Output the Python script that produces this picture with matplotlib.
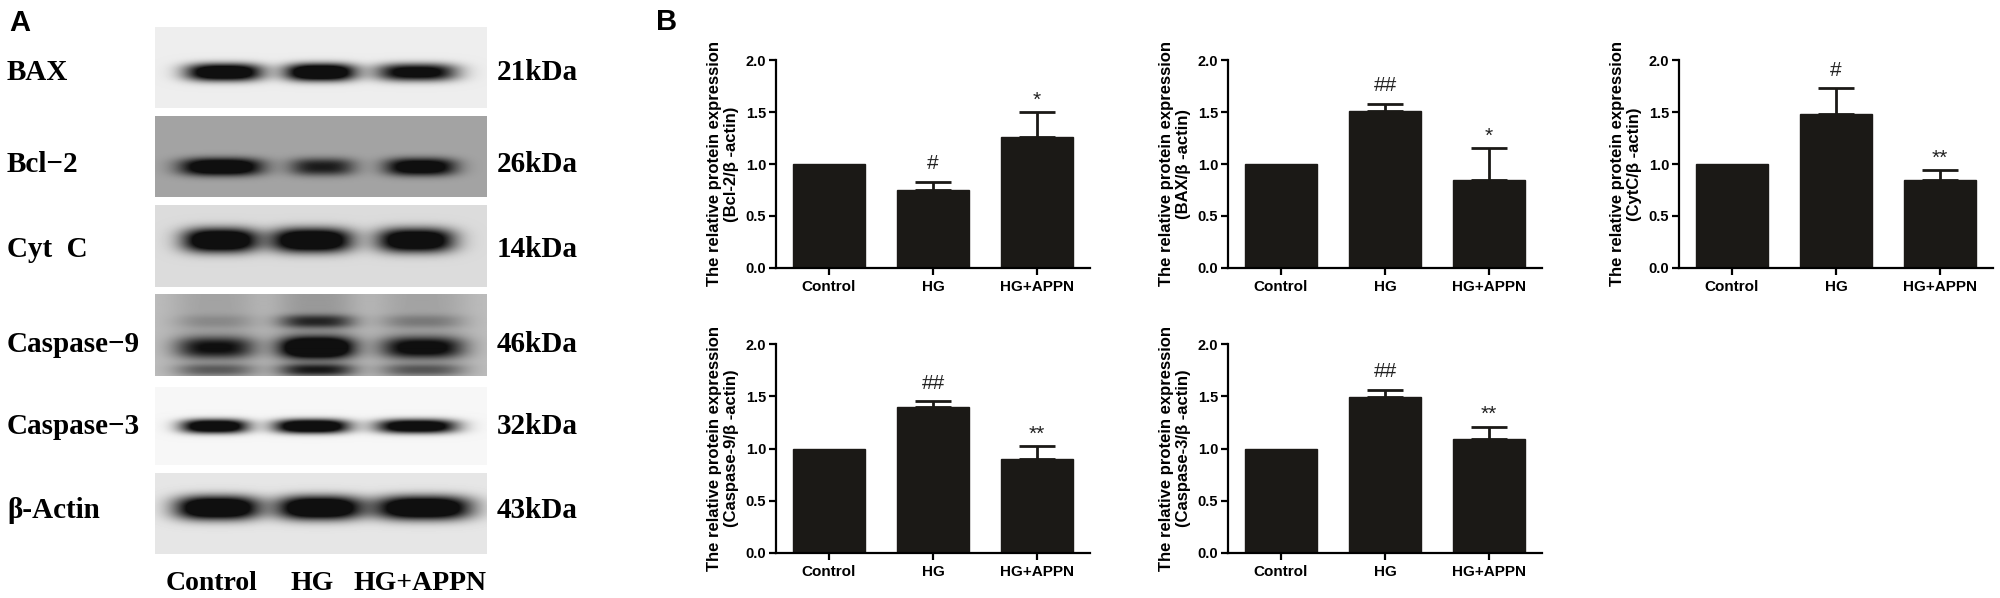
import numpy as np
import matplotlib.pyplot as plt

W, H = 2000, 598

groups = ['Control', 'HG', 'HG+APPN']

# panel B: mean, upper error, significance marks
bcl2_mean = [1.00, 0.75, 1.26]
bcl2_err = [0.0, 0.08, 0.24]
bcl2_mark = ['', '#', '*']
bax_mean = [1.00, 1.51, 0.85]
bax_err = [0.0, 0.07, 0.30]
bax_mark = ['', '##', '*']
cytc_mean = [1.00, 1.48, 0.85]
cytc_err = [0.0, 0.25, 0.09]
cytc_mark = ['', '#', '**']
casp9_mean = [1.00, 1.40, 0.90]
casp9_err = [0.0, 0.05, 0.12]
casp9_mark = ['', '##', '**']
casp3_mean = [1.00, 1.49, 1.09]
casp3_err = [0.0, 0.07, 0.12]
casp3_mark = ['', '##', '**']

# panel A: blot rows and band darkness per lane
blot_names = ['BAX', 'Bcl−2', 'Cyt  C', 'Caspase−9', 'Caspase−3', 'β-Actin']
blot_kda = ['21kDa', '26kDa', '14kDa', '46kDa', '32kDa', '43kDa']
blot_bg = [0.93, 0.64, 0.86, 0.74, 0.965, 0.90]
band_bax = [0.95, 1.0, 0.80]
band_bcl2 = [1.0, 0.62, 0.90]
band_cytc = [1.0, 1.0, 0.95]
band_casp9 = [0.60, 1.0, 0.70]
band_casp9_up = [0.10, 0.45, 0.16]
band_casp9_low = [0.28, 0.50, 0.30]
band_casp9_lane = [0.10, 0.14, 0.10]
band_casp3 = [0.95, 1.0, 0.92]
band_actin = [1.0, 1.0, 1.0]

plt.rcParams['font.family'] = ['Liberation Sans', 'DejaVu Sans']
plt.rcParams['font.weight'] = 'bold'

fig = plt.figure(figsize=(W / 100, H / 100), dpi=100)

# ---------- panel A ----------
serif = ['Liberation Serif', 'DejaVu Serif']
row_px = [(27, 108), (116, 197), (205, 287), (294, 376), (387, 465), (473, 554)]
name_y = [73, 165, 250, 345, 427, 510]
blot_x0, blot_x1 = 155, 487
xext = (-0.715, 2.725)

# (levels, lane centres, half widths, y centre, thickness)
row_bands = [
    [(band_bax, [0.0, 1.0, 2.0], [0.40, 0.37, 0.42], 0.56, 0.11)],
    [(band_bcl2, [-0.03, 1.02, 2.04], [0.43, 0.34, 0.37], 0.63, 0.11)],
    [(band_cytc, [-0.04, 0.91, 1.99], [0.39, 0.42, 0.40], 0.43, 0.15)],
    [(band_casp9, [-0.09, 0.96, 2.06], [0.41, 0.39, 0.43], 0.66, 0.13),
     (band_casp9_up, [-0.09, 0.96, 2.06], [0.41, 0.39, 0.43], 0.34, 0.08),
     (band_casp9_low, [-0.09, 0.96, 2.06], [0.41, 0.39, 0.43], 0.93, 0.07),
     (band_casp9_lane, [-0.09, 0.96, 2.06], [0.45, 0.43, 0.47], 0.5, 2.0)],
    [(band_casp3, [-0.10, 0.91, 2.0], [0.35, 0.39, 0.42], 0.51, 0.09)],
    [(band_actin, [-0.07, 0.99, 2.07], [0.44, 0.44, 0.50], 0.43, 0.15)],
]

for r in range(6):
    top, bot = row_px[r]
    ax = fig.add_axes([blot_x0 / W, 1 - bot / H, (blot_x1 - blot_x0) / W, (bot - top) / H])
    nx, ny = blot_x1 - blot_x0, bot - top
    xs = np.linspace(xext[0], xext[1], nx)
    ys = np.linspace(0, 1, ny)
    X, Y = np.meshgrid(xs, ys)
    dark = np.zeros_like(X)
    for levels, centres, hws, yc, s in row_bands[r]:
        for lv, c, hw in zip(levels, centres, hws):
            dark += 1.5 * lv * np.exp(-np.abs((X - c) / hw) ** 3) \
                * np.exp(-np.abs((Y - yc) / s) ** 2.5)
    dark = np.clip(dark, 0, 1)
    img = blot_bg[r] * (1 - dark) + 0.06 * dark
    ax.imshow(img, cmap='gray', vmin=0, vmax=1, aspect='auto',
              extent=(xext[0], xext[1], 1, 0), interpolation='bilinear')
    ax.set_axis_off()
    fig.text(7 / W, 1 - name_y[r] / H, blot_names[r], family=serif, fontsize=21,
             ha='left', va='center')
    fig.text(497 / W, 1 - name_y[r] / H, blot_kda[r], family=serif, fontsize=21,
             ha='left', va='center')

lane_x = [212, 312, 420]
for g, lx in zip(groups, lane_x):
    fig.text(lx / W, 1 - 583 / H, g, family=serif, fontsize=20, ha='center', va='center')

fig.text(9 / W, 1 - 23 / H, 'A', fontsize=21, ha='left', va='center')
fig.text(656 / W, 1 - 22 / H, 'B', fontsize=21, ha='left', va='center')

# ---------- panel B ----------
col_x = [776, 1228, 1679]
row_y = [(60, 268), (344, 553)]
bar_col = '#1b1916'


def bar_panel(cx, ry, mean, err, mark, name):
    ax = fig.add_axes([cx / W, 1 - ry[1] / H, 314 / W, (ry[1] - ry[0]) / H])
    x = np.arange(len(groups))
    ax.bar(x, mean, width=0.69, color=bar_col, edgecolor=bar_col, zorder=2)
    for i in range(len(x)):
        if err[i] > 0:
            ax.errorbar(x[i], mean[i], yerr=[[0], [err[i]]], fmt='none', ecolor=bar_col,
                        elinewidth=2, capsize=13, capthick=2, zorder=1)
        if mark[i]:
            off = 0.12 if '#' in mark[i] else 0.06
            ax.text(x[i], mean[i] + err[i] + off, mark[i], ha='center', va='baseline',
                    fontsize=15, fontweight='normal', color='#222222')
    ax.set_xlim(-0.51, 2.51)
    ax.set_ylim(0, 2.0)
    ax.set_xticks(x, groups)
    ax.set_yticks([0, 0.5, 1.0, 1.5, 2.0], ['0.0', '0.5', '1.0', '1.5', '2.0'])
    ax.tick_params(axis='x', labelsize=11, width=1.6, length=5)
    ax.tick_params(axis='y', labelsize=10.5, width=1.6, length=5, pad=2)
    for sp in ['top', 'right']:
        ax.spines[sp].set_visible(False)
    for sp in ['left', 'bottom']:
        ax.spines[sp].set_linewidth(1.6)
    ax.text(-0.169, 0.5, 'The relative protein expression\n(' + name + '/β -actin)',
            transform=ax.transAxes, rotation=90, ha='center', va='center',
            multialignment='center', fontsize=12, linespacing=1.15)
    return ax


bar_panel(col_x[0], row_y[0], bcl2_mean, bcl2_err, bcl2_mark, 'Bcl-2')
bar_panel(col_x[1], row_y[0], bax_mean, bax_err, bax_mark, 'BAX')
bar_panel(col_x[2], row_y[0], cytc_mean, cytc_err, cytc_mark, 'CytC')
bar_panel(col_x[0], row_y[1], casp9_mean, casp9_err, casp9_mark, 'Caspase-9')
bar_panel(col_x[1], row_y[1], casp3_mean, casp3_err, casp3_mark, 'Caspase-3')

fig.savefig('out.png', dpi=100)
